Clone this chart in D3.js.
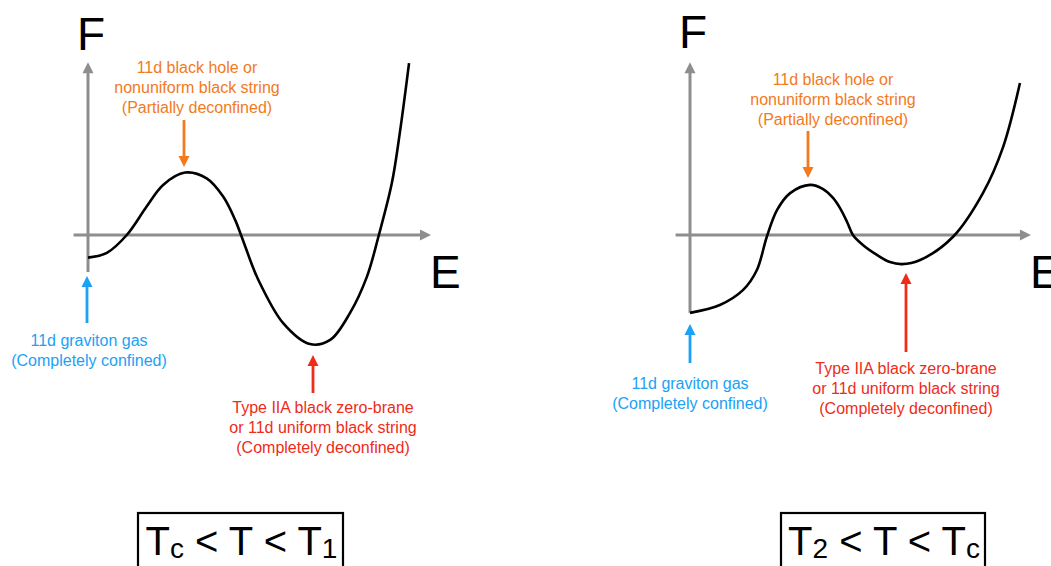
<!DOCTYPE html>
<html>
<head>
<meta charset="utf-8">
<script src="https://cdn.jsdelivr.net/npm/d3@7"></script>
<style>
  html, body { margin: 0; padding: 0; background: #fff; }
  svg { display: block; font-family: "Liberation Sans", Arial, sans-serif; }
</style>
</head>
<body>
<svg id="chart" width="1051" height="566"></svg>
<script>
// free energy curves (E along, F up)
const leftE = [0, 0.55, 1.13, 1.71, 2.19, 2.83, 3.46, 3.94, 4.29, 4.48, 4.82, 5.01, 5.69, 6.47, 7.06, 7.64, 8.13, 8.48, 8.86, 9.09, 9.36];
const leftF = [-0.66, -0.52, 0, 0.83, 1.46, 1.82, 1.65, 1.12, 0.44, -0.05, -0.97, -1.4, -2.57, -3.18, -3.06, -2.27, -1.22, 0, 1.52, 2.97, 5.01];
const rightE = [0, 0.87, 1.55, 1.95, 2.24, 2.54, 2.92, 3.5, 3.88, 4.17, 4.37, 4.58, 4.75, 5.04, 5.45, 5.83, 6.18, 6.71, 7.67, 8.54, 9.13, 9.62];
const rightF = [-2.27, -2.04, -1.6, -1.02, -0.05, 0.73, 1.22, 1.46, 1.34, 1.08, 0.79, 0.38, 0, -0.29, -0.58, -0.79, -0.85, -0.73, -0.05, 1.22, 2.57, 4.43];

const peakLabel = ["11d black hole or", "nonuniform black string", "(Partially deconfined)"];
const gasLabel = ["11d graviton gas", "(Completely confined)"];
const braneLabel = ["Type IIA black zero-brane", "or 11d uniform black string", "(Completely deconfined)"];
const titles = [["T", "c", " < T < T", "1"], ["T", "2", " < T < T", "c"]];

const orange = "#f27a1c", blue = "#1ba1f5", red = "#ef2b1a", grey = "#8e8e8e";

const svg = d3.select("#chart");

// shaft + triangle head
function arrow(g, x, y1, y2, color, w) {
  // y1 = tail, y2 = tip
  const dir = y2 < y1 ? -1 : 1;
  const head = 11;
  g.append("line")
    .attr("x1", x).attr("y1", y1)
    .attr("x2", x).attr("y2", y2 - dir * head + dir)
    .attr("stroke", color).attr("stroke-width", w);
  g.append("path")
    .attr("d", `M${x},${y2} L${x - 5.5},${y2 - dir * head} L${x + 5.5},${y2 - dir * head} Z`)
    .attr("fill", color);
}

function textBlock(g, lines, cx, cy0, color) {
  g.append("text")
    .attr("text-anchor", "middle")
    .attr("fill", color)
    .attr("font-size", 16)
    .selectAll("tspan")
    .data(lines)
    .enter()
    .append("tspan")
    .attr("x", cx)
    .attr("y", (d, i) => cy0 + 6 + i * 19.8)
    .text((d) => d);
}

function panel(cfg) {
  const x = d3.scaleLinear().domain([0, 10]).range([cfg.x0, cfg.x0 + 343]);
  const y = d3.scaleLinear().domain([0, 5]).range([235, 63.5]);
  const g = svg.append("g");

  // axes
  const yBot = y(cfg.yAxisMin);
  g.append("line")
    .attr("x1", x(0)).attr("x2", x(0))
    .attr("y1", yBot).attr("y2", y(5.04) + 9)
    .attr("stroke", grey).attr("stroke-width", 3);
  g.append("path")
    .attr("d", `M${x(0)},${y(5.04)} l-5.5,11 l11,0 Z`)
    .attr("fill", grey);
  g.append("line")
    .attr("x1", x(-0.42)).attr("x2", x(cfg.xAxisMax) - 9)
    .attr("y1", y(0)).attr("y2", y(0))
    .attr("stroke", grey).attr("stroke-width", 3);
  g.append("path")
    .attr("d", `M${x(cfg.xAxisMax)},${y(0)} l-11,-5.5 l0,11 Z`)
    .attr("fill", grey);

  g.append("text").attr("x", x(0) - 11).attr("y", cfg.fY)
    .attr("font-size", 46).text("F");
  g.append("text").attr("x", x(cfg.xAxisMax) - 1).attr("y", 288)
    .attr("font-size", 46).text("E");

  // curve
  const pts = cfg.E.map((e, i) => [e, cfg.F[i]]);
  const line = d3.line()
    .x((d) => x(d[0]))
    .y((d) => y(d[1]))
    .curve(d3.curveCatmullRom.alpha(0.5));
  g.append("path")
    .attr("d", line(pts))
    .attr("fill", "none")
    .attr("stroke", "#000")
    .attr("stroke-width", 2.6);

  // annotations
  const a = cfg.notes;
  arrow(g, a.peak.x, a.peak.tail, a.peak.tip, orange, 2.8);
  textBlock(g, peakLabel, a.peak.tx, a.peak.ty, orange);
  arrow(g, a.gas.x, a.gas.tail, a.gas.tip, blue, 2.8);
  textBlock(g, gasLabel, a.gas.tx, a.gas.ty, blue);
  arrow(g, a.brane.x, a.brane.tail, a.brane.tip, red, 2.8);
  textBlock(g, braneLabel, a.brane.tx, a.brane.ty, red);

  // temperature box
  g.append("rect")
    .attr("x", cfg.box[0]).attr("y", 513)
    .attr("width", cfg.box[1] - cfg.box[0]).attr("height", 80)
    .attr("fill", "none").attr("stroke", "#000").attr("stroke-width", 2.2);
  const t = g.append("text")
    .attr("x", (cfg.box[0] + cfg.box[1]) / 2 + 1)
    .attr("y", 555)
    .attr("text-anchor", "middle")
    .attr("font-size", 40);
  cfg.title.forEach((s, i) => {
    const sub = i % 2 === 1;
    t.append("tspan")
      .attr("font-size", sub ? 28 : 40)
      .attr("dy", sub ? 3 : (i === 0 ? 0 : -3))
      .text(s);
  });
}

panel({
  x0: 88, E: leftE, F: leftF, yAxisMin: -1.08, xAxisMax: 10, fY: 50,
  box: [138, 343], title: titles[0],
  notes: {
    peak: { x: 184, tail: 120, tip: 167, tx: 197, ty: 67 },
    gas: { x: 87, tail: 323, tip: 276, tx: 89, ty: 340 },
    brane: { x: 313, tail: 393, tip: 355, tx: 323, ty: 407 }
  }
});

panel({
  x0: 690, E: rightE, F: rightF, yAxisMin: -2.27, xAxisMax: 9.94, fY: 48,
  box: [781, 985], title: titles[1],
  notes: {
    peak: { x: 808, tail: 131, tip: 178, tx: 833, ty: 79 },
    gas: { x: 690, tail: 363, tip: 324, tx: 690, ty: 383 },
    brane: { x: 906, tail: 352, tip: 273, tx: 906, ty: 368 }
  }
});
</script>
</body>
</html>
